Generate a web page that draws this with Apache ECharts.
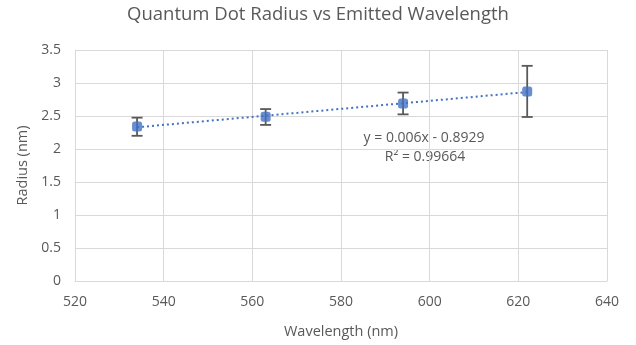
<!DOCTYPE html>
<html><head><meta charset="utf-8">
<script src="https://cdn.jsdelivr.net/npm/echarts@6/dist/echarts.min.js"></script>
<style>html,body{margin:0;padding:0;background:#fff}#c{width:636px;height:345px}</style>
</head><body><div id="c"></div>
<script>
const wavelengths = [534, 563, 594, 622];
const radii = [2.34, 2.49, 2.69, 2.87];
const errLow = [2.20, 2.365, 2.525, 2.485];
const errHigh = [2.475, 2.605, 2.855, 3.26];
const xTicks = [520, 640, 20];
const yTicks = [0, 3.5, 0.5];
const titleText = 'Quantum Dot Radius vs Emitted Wavelength';
const eqText = 'y = 0.006x - 0.8929';
const r2Text = 'R² = 0.99664';

// least-squares trendline from the data
const n = wavelengths.length;
const mx = wavelengths.reduce((a,b)=>a+b,0)/n;
const my = radii.reduce((a,b)=>a+b,0)/n;
let sxy=0, sxx=0;
for (let i=0;i<n;i++){ sxy+=(wavelengths[i]-mx)*(radii[i]-my); sxx+=(wavelengths[i]-mx)**2; }
const slope = sxy/sxx, icpt = my - slope*mx;
const trend = [[wavelengths[0], icpt+slope*wavelengths[0]],[wavelengths[n-1], icpt+slope*wavelengths[n-1]]];

const FONT = 'Open Sans';
const TXT = '#595959';
const chart = echarts.init(document.getElementById('c'), null, {renderer:'canvas'});
chart.setOption({
  animation:false,
  title:{text:titleText,left:'center',top:0,textStyle:{fontFamily:FONT,fontSize:18.5,fontWeight:'normal',color:TXT}},
  grid:{left:75,right:29,top:50,bottom:64},
  xAxis:{type:'value',min:xTicks[0],max:xTicks[1],interval:xTicks[2],
    name:'Wavelength (nm)',nameLocation:'middle',nameGap:43,
    nameTextStyle:{fontFamily:FONT,fontSize:14.5,color:TXT},
    axisLine:{show:true,lineStyle:{color:'#d9d9d9'}},axisTick:{show:false},
    axisLabel:{fontFamily:FONT,fontSize:14,color:TXT,margin:14},
    splitLine:{show:true,lineStyle:{color:'#d9d9d9'}}},
  yAxis:{type:'value',min:yTicks[0],max:yTicks[1],interval:yTicks[2],
    name:'Radius (nm)',nameLocation:'middle',nameGap:44,
    nameTextStyle:{fontFamily:FONT,fontSize:14.5,color:TXT},
    axisLine:{show:true,lineStyle:{color:'#d9d9d9'}},axisTick:{show:false},
    axisLabel:{fontFamily:FONT,fontSize:14,color:TXT,margin:14},
    splitLine:{show:true,lineStyle:{color:'#d9d9d9'}}},
  series:[
    {type:'line',data:trend,symbol:'none',z:2,
      lineStyle:{color:'#4472C4',width:2,type:[2,3]}},
    {type:'custom',z:3,
      data:wavelengths.map((x,i)=>[x,errLow[i],errHigh[i]]),
      renderItem:function(params,api){
        const lo = api.coord([api.value(0),api.value(1)]);
        const hi = api.coord([api.value(0),api.value(2)]);
        const w = 5.5;
        const st = {stroke:'#595959',lineWidth:1.8};
        return {type:'group',children:[
          {type:'line',shape:{x1:lo[0],y1:lo[1],x2:hi[0],y2:hi[1]},style:st},
          {type:'line',shape:{x1:lo[0]-w,y1:lo[1],x2:lo[0]+w,y2:lo[1]},style:st},
          {type:'line',shape:{x1:hi[0]-w,y1:hi[1],x2:hi[0]+w,y2:hi[1]},style:st}
        ]};
      }},
    {type:'scatter',z:4,data:wavelengths.map((x,i)=>[x,radii[i]]),
      symbol:'roundRect',symbolSize:10,itemStyle:{color:'#4472C4'}}
  ],
  graphic:[
    {type:'text',x:424,y:138,style:{text:eqText,fontFamily:FONT,fontSize:14,fill:TXT,align:'center',verticalAlign:'middle'}},
    {type:'text',x:425,y:157,style:{text:r2Text,fontFamily:FONT,fontSize:14,fill:TXT,align:'center',verticalAlign:'middle'}}
  ]
});
</script></body></html>
